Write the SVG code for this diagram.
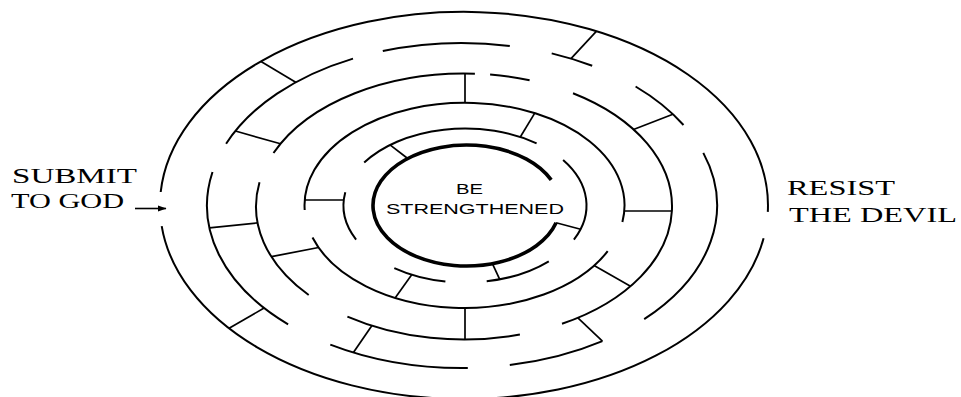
<svg xmlns="http://www.w3.org/2000/svg" width="961" height="397" viewBox="0 0 961 397">
<style>
.ring{fill:none;stroke:#000;stroke-width:2}
.wall{fill:none;stroke:#000;stroke-width:1.7}
.core{fill:none;stroke:#000;stroke-width:3.6}
.lbl{font-family:"Liberation Serif","Times New Roman",serif;font-size:22px;fill:#000}
.ctr{font-family:"Liberation Sans",Arial,sans-serif;font-size:15px;fill:#000}
</style>
<defs>
<marker id="ah" markerWidth="9" markerHeight="8" refX="8.5" refY="4" orient="auto" markerUnits="userSpaceOnUse">
<path d="M0,0.8 L9,4 L0,7.2 Z" fill="#000"/>
</marker>
</defs>
<rect width="961" height="397" fill="#fff"/>
<g id="maze-rings">
<path class="ring" d="M763.6,238.3 A304,193.5 0 0 1 161.7,226.1"/>
<path class="ring" d="M160.7,192.0 A304,193.5 0 0 1 767.8,211.9"/>
<path class="ring" d="M288.1,324.4 A255,162.5 0 0 1 212.5,172.0"/>
<path class="ring" d="M467.8,368.0 A255,162.5 0 0 1 330.3,344.6"/>
<path class="ring" d="M602.4,341.2 A255,162.5 0 0 1 509.8,365.1"/>
<path class="ring" d="M703.3,152.9 A255,162.5 0 0 1 644.2,319.2"/>
<path class="ring" d="M635.6,86.5 A255,162.5 0 0 1 683.5,125.0"/>
<path class="ring" d="M551.7,53.4 A255,162.5 0 0 1 592.2,65.8"/>
<path class="ring" d="M382.8,51.0 A255,162.5 0 0 1 509.8,45.9"/>
<path class="ring" d="M226.1,143.8 A255,162.5 0 0 1 353.0,58.6"/>
<path class="ring" d="M273.5,153.0 A208,133 0 0 1 474.9,73.7"/>
<path class="ring" d="M490.1,74.5 A208,133 0 0 1 529.6,80.3"/>
<path class="ring" d="M573.0,93.2 A208,133 0 0 1 562.0,323.8"/>
<path class="ring" d="M519.9,334.6 A208,133 0 0 1 347.4,316.6"/>
<path class="ring" d="M308.7,295.0 A208,133 0 0 1 259.5,182.3"/>
<path class="ring" d="M304.7,210.0 A160,102.5 0 1 1 622.4,221.9"/>
<path class="ring" d="M607.7,251.2 A160,102.5 0 0 1 312.5,237.5"/>
<path class="ring" d="M364.2,162.6 A121.5,77 0 0 1 536.6,143.3"/>
<path class="ring" d="M563.1,160.0 A121.5,77 0 0 1 573.9,239.6"/>
<path class="ring" d="M548.8,261.3 A121.5,77 0 0 1 486.7,281.3"/>
<path class="ring" d="M445.4,281.5 A121.5,77 0 0 1 394.3,268.1"/>
<path class="ring" d="M356.1,239.6 A121.5,77 0 0 1 345.3,192.3"/>
</g>
<g id="maze-walls">
<path class="wall" d="M261.0,61.5 L295.7,82.3"/>
<path class="wall" d="M596.3,31.3 L571.0,58.6"/>
<path class="wall" d="M229.1,328.3 L264.1,308.0"/>
<path class="wall" d="M235.4,131.0 L280.5,143.8"/>
<path class="wall" d="M209.4,227.8 L257.6,222.9"/>
<path class="wall" d="M353.4,352.5 L371.8,325.7"/>
<path class="wall" d="M602.4,341.2 L577.9,317.8"/>
<path class="wall" d="M672.9,114.2 L633.5,129.5"/>
<path class="wall" d="M465,73.5 L465,103"/>
<path class="wall" d="M271.4,256.7 L318.6,247.5"/>
<path class="wall" d="M465,308 L465,339.5"/>
<path class="wall" d="M630.5,286.2 L594.1,265.6"/>
<path class="wall" d="M671.9,211 L624.3,211"/>
<path class="wall" d="M304.7,200 L343.8,200"/>
<path class="wall" d="M534.6,113.4 L520.3,137.0"/>
<path class="wall" d="M395.1,297.9 L411.7,274.7"/>
<path class="wall" d="M390.0,144.9 L407.7,158.5"/>
<path class="wall" d="M499.7,279.3 L492.4,263.6"/>
<path class="wall" d="M580.6,229.2 L556.1,222.8"/>
</g>
<g id="center">
<path class="core" d="M556.1,222.8 A93.5,60.5 0 1 1 551.2,179.9"/>
<text class="ctr" x="456" y="194" textLength="27" lengthAdjust="spacingAndGlyphs">BE</text>
<text class="ctr" x="386" y="214" textLength="178" lengthAdjust="spacingAndGlyphs">STRENGTHENED</text>
</g>
<g id="start">
<text class="lbl" x="12" y="183" textLength="125" lengthAdjust="spacingAndGlyphs">SUBMIT</text>
<text class="lbl" x="11" y="208" textLength="113" lengthAdjust="spacingAndGlyphs">TO GOD</text>
</g>
<g id="end">
<text class="lbl" x="787" y="195" textLength="108" lengthAdjust="spacingAndGlyphs">RESIST</text>
<text class="lbl" x="789" y="222" textLength="168" lengthAdjust="spacingAndGlyphs">THE DEVIL</text>
</g>
<g id="connectors">
<line x1="135" y1="208.5" x2="166" y2="208.5" stroke="#000" stroke-width="1.6" marker-end="url(#ah)"/>
</g>
</svg>
